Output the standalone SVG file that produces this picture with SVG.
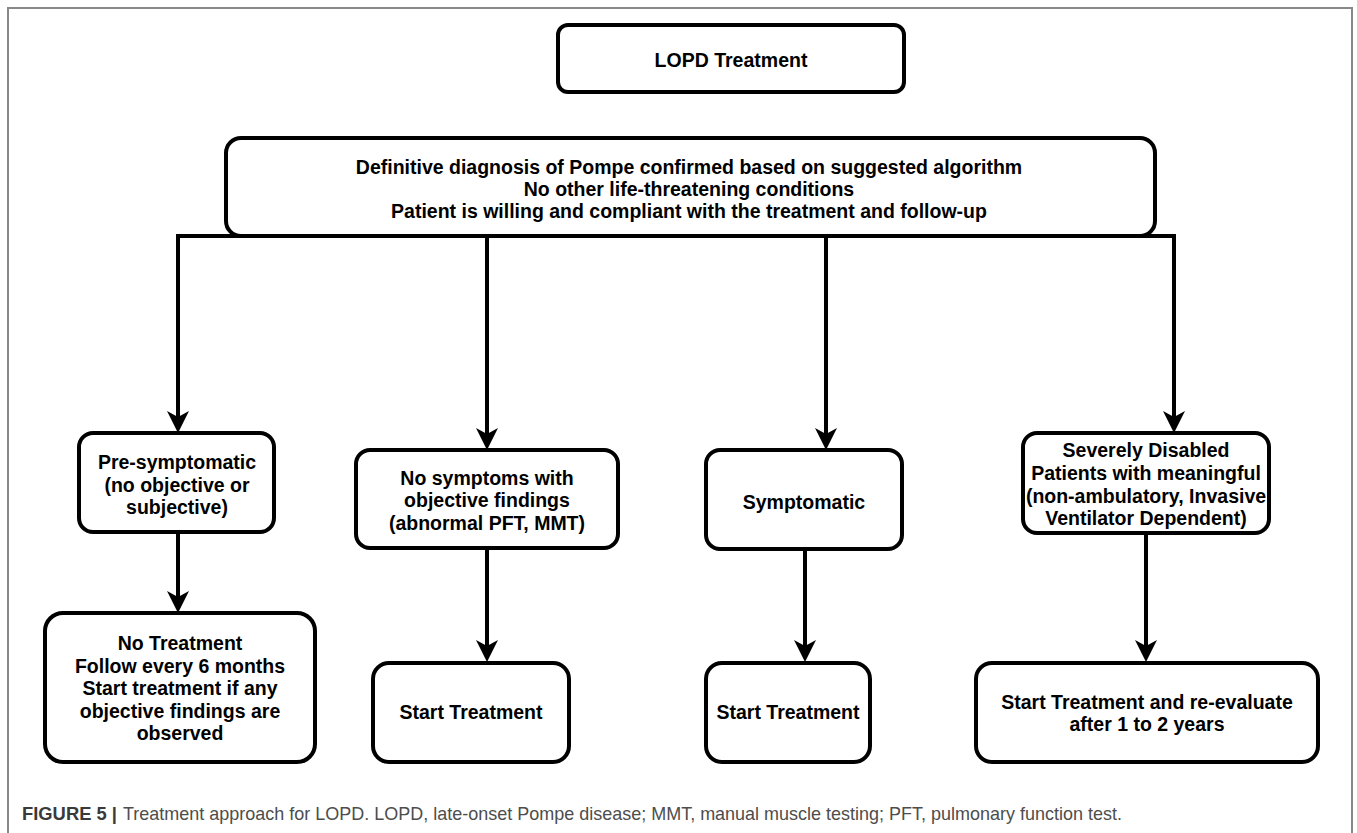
<svg xmlns="http://www.w3.org/2000/svg" width="1357" height="833" viewBox="0 0 1357 833">
<defs>
<style>
.box{fill:#fff;stroke:#000;stroke-width:4}
.t{font-family:"Liberation Sans",Arial,sans-serif;font-weight:bold;font-size:19.5px;fill:#000;text-anchor:middle}
.c{fill:none;stroke:#000;stroke-width:4;stroke-linejoin:miter}
.cap{font-family:"Liberation Sans",Arial,sans-serif;font-size:19px}
</style>
<marker id="ah" markerUnits="userSpaceOnUse" viewBox="0 0 22 22" refX="6" refY="11" markerWidth="22" markerHeight="22" orient="auto">
<path d="M0 0 L22 11 L0 22 L6 11 Z" fill="#000"/>
</marker>
</defs>
<rect x="0" y="0" width="1357" height="833" fill="#fff"/>
<rect x="8" y="8" width="1344" height="900" fill="none" stroke="#888" stroke-width="2"/>

<g id="connectors">
<path class="c" d="M487 236 H178 V417" marker-end="url(#ah)"/>
<path class="c" d="M487 236 H1174 V417" marker-end="url(#ah)"/>
<path class="c" d="M487 236 V434" marker-end="url(#ah)"/>
<path class="c" d="M826 236 V434" marker-end="url(#ah)"/>
<path class="c" d="M178 532 V597" marker-end="url(#ah)"/>
<path class="c" d="M487 548 V646" marker-end="url(#ah)"/>
<path class="c" d="M805 549 V646" marker-end="url(#ah)"/>
<path class="c" d="M1146 533 V646" marker-end="url(#ah)"/>
</g>

<g id="lopd">
<rect class="box" x="558" y="25" width="346" height="67" rx="10"/>
<text class="t" x="731" y="67">LOPD Treatment</text>
</g>

<g id="criteria">
<rect class="box" x="226" y="138" width="929" height="98" rx="15"/>
<text class="t" x="689" y="174">Definitive diagnosis of Pompe confirmed based on suggested algorithm</text>
<text class="t" x="689" y="196">No other life-threatening conditions</text>
<text class="t" x="689" y="218">Patient is willing and compliant with the treatment and follow-up</text>
</g>

<g id="presymptomatic">
<rect class="box" x="79" y="433" width="195" height="99" rx="14"/>
<text class="t" x="177" y="469">Pre-symptomatic</text>
<text class="t" x="177" y="492">(no objective or</text>
<text class="t" x="177" y="514">subjective)</text>
</g>

<g id="nosymptoms">
<rect class="box" x="356" y="450" width="262" height="98" rx="14"/>
<text class="t" x="487" y="485">No symptoms with</text>
<text class="t" x="487" y="507">objective findings</text>
<text class="t" x="487" y="530">(abnormal PFT, MMT)</text>
</g>

<g id="symptomatic">
<rect class="box" x="706" y="450" width="196" height="99" rx="14"/>
<text class="t" x="804" y="509">Symptomatic</text>
</g>

<g id="severe">
<rect class="box" x="1023" y="433" width="246" height="100" rx="14"/>
<text class="t" x="1146" y="457">Severely Disabled</text>
<text class="t" x="1146" y="480">Patients with meaningful</text>
<text class="t" x="1146" y="503">(non-ambulatory, Invasive</text>
<text class="t" x="1146" y="525">Ventilator Dependent)</text>
</g>

<g id="notreatment">
<rect class="box" x="45" y="613" width="270" height="149" rx="18"/>
<text class="t" x="180" y="650">No Treatment</text>
<text class="t" x="180" y="673">Follow every 6 months</text>
<text class="t" x="180" y="695">Start treatment if any</text>
<text class="t" x="180" y="718">objective findings are</text>
<text class="t" x="180" y="740">observed</text>
</g>

<g id="start1">
<rect class="box" x="373" y="663" width="196" height="99" rx="16"/>
<text class="t" x="471" y="719">Start Treatment</text>
</g>

<g id="start2">
<rect class="box" x="706" y="663" width="164" height="99" rx="16"/>
<text class="t" x="788" y="719">Start Treatment</text>
</g>

<g id="start3">
<rect class="box" x="976" y="663" width="342" height="99" rx="16"/>
<text class="t" x="1147" y="709">Start Treatment and re-evaluate</text>
<text class="t" x="1147" y="731">after 1 to 2 years</text>
</g>

<g id="caption">
<text class="cap" x="22" y="820" font-weight="bold" fill="#3a3a3a" textLength="95" lengthAdjust="spacingAndGlyphs">FIGURE 5 |</text>
<text class="cap" x="123" y="820" fill="#4d4d4d" textLength="999" lengthAdjust="spacingAndGlyphs">Treatment approach for LOPD. LOPD, late-onset Pompe disease; MMT, manual muscle testing; PFT, pulmonary function test.</text>
</g>
</svg>
